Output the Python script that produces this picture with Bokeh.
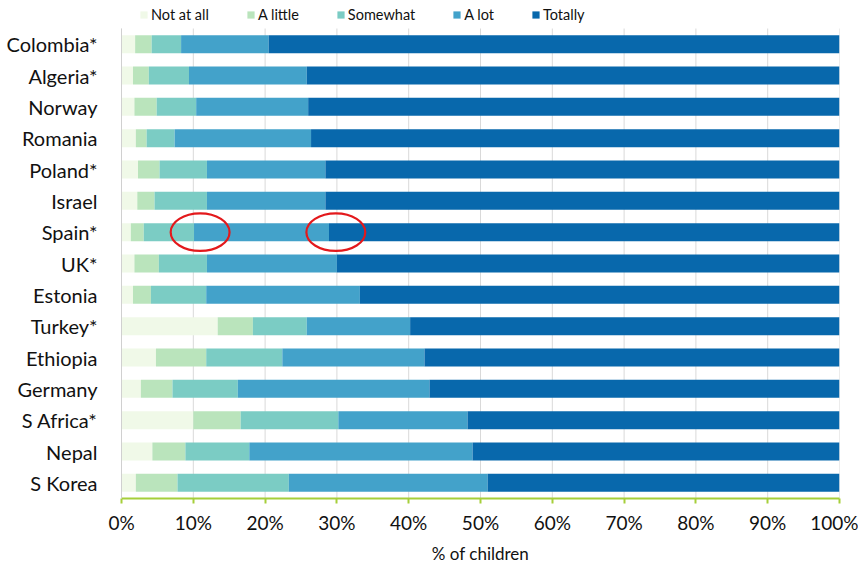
from bokeh.plotting import figure
from bokeh.models import ColumnDataSource, Legend, LegendItem, FixedTicker, PrintfTickFormatter, Range1d
from bokeh.embed import file_html
from bokeh.resources import INLINE

countries = ["Colombia*", "Algeria*", "Norway", "Romania", "Poland*", "Israel", "Spain*", "UK*",
             "Estonia", "Turkey*", "Ethiopia", "Germany", "S Africa*", "Nepal", "S Korea"]
not_at_all = [1.9, 1.6, 1.8, 2.0, 2.3, 2.2, 1.3, 1.8, 1.6, 13.4, 4.8, 2.7, 10.0, 4.3, 2.0]
a_little = [2.3, 2.2, 3.1, 1.5, 3.0, 2.4, 1.8, 3.4, 2.5, 4.9, 7.0, 4.4, 6.6, 4.6, 5.8]
somewhat = [4.1, 5.6, 5.5, 3.9, 6.6, 7.3, 7.0, 6.7, 7.7, 7.5, 10.6, 9.1, 13.6, 8.9, 15.5]
a_lot = [12.2, 16.4, 15.6, 19.0, 16.5, 16.5, 18.8, 18.1, 21.4, 14.4, 19.8, 26.7, 18.0, 31.1, 27.7]
totally = [79.5, 74.2, 74.0, 73.6, 71.6, 71.6, 71.1, 70.0, 66.8, 59.8, 57.8, 57.1, 51.8, 51.1, 49.0]

series_labels = ["Not at all", "A little", "Somewhat", "A lot", "Totally"]
series_keys = ["not_at_all", "a_little", "somewhat", "a_lot", "totally"]
colors = ["#f0f9e8", "#bae4bc", "#7bccc4", "#43a2ca", "#0868ac"]
x_ticks = [0, 10, 20, 30, 40, 50, 60, 70, 80, 90, 100]
highlight_country = "Spain*"

FONT = "Lato"

n = len(countries)
ypos = [n - 1 - k for k in range(n)]  # first country at top
source = ColumnDataSource(dict(country=countries, y=ypos, not_at_all=not_at_all, a_little=a_little,
                               somewhat=somewhat, a_lot=a_lot, totally=totally))

# extra room above the rows holds the legend
p = figure(width=858, height=566, output_backend="svg", toolbar_location=None,
           y_range=Range1d(-0.5, n - 0.5 + 0.894),
           x_range=Range1d(0, 100),
           min_border_left=121, min_border_right=19, min_border_top=0, min_border_bottom=68)

p.xgrid.visible = False
p.ygrid.visible = False
# vertical gridlines limited to the rows
p.segment(x0=x_ticks, y0=[-0.5] * len(x_ticks), x1=x_ticks, y1=[n - 0.5] * len(x_ticks),
          line_color="#d9d9d9", line_width=1)

rs = p.hbar_stack(series_keys, y="y", height=0.575, color=colors, source=source, line_width=0)

# highlight ellipses around Spain boundaries
i = countries.index(highlight_country)
b1 = not_at_all[i] + a_little[i] + somewhat[i]
b2 = b1 + a_lot[i]
p.ellipse(x=[b1 + 0.85, b2 + 0.95], y=[ypos[i], ypos[i]], width=8.2, height=1.2,
          fill_color=None, line_color="#e3191c", line_width=2.2)

legend = Legend(items=[LegendItem(label=l, renderers=[r]) for l, r in zip(series_labels, rs)],
                orientation="horizontal", location=(18, 474), padding=0, margin=0, spacing=37,
                glyph_width=9, glyph_height=9, label_standoff=3, label_height=20,
                label_text_font=FONT, label_text_font_size="14.5px", label_text_color="#111111",
                border_line_color=None, background_fill_alpha=0)
p.add_layout(legend)

p.outline_line_color = None

p.xaxis.ticker = FixedTicker(ticks=x_ticks)
p.xaxis.formatter = PrintfTickFormatter(format="%d%%")
p.xaxis.axis_line_color = "#a6cf3a"
p.xaxis.axis_line_width = 2
p.xaxis.major_tick_line_color = "#a6cf3a"
p.xaxis.major_tick_line_width = 2
p.xaxis.major_tick_out = 5
p.xaxis.major_tick_in = 0
p.xaxis.minor_tick_line_color = None
p.xaxis.major_label_text_font = FONT
p.xaxis.major_label_text_font_size = "19px"
p.xaxis.major_label_text_color = "#111111"
p.xaxis.major_label_standoff = 7
p.xaxis.axis_label = "% of children"
p.xaxis.axis_label_text_font = FONT
p.xaxis.axis_label_text_font_size = "17px"
p.xaxis.axis_label_text_font_style = "normal"
p.xaxis.axis_label_text_color = "#111111"
p.xaxis.axis_label_standoff = 6

p.yaxis.ticker = FixedTicker(ticks=ypos)
p.yaxis.major_label_overrides = {yy: c for yy, c in zip(ypos, countries)}
p.yaxis.bounds = (-0.5, n - 0.5)
p.yaxis.axis_line_color = "#d0d0d0"
p.yaxis.major_tick_line_color = None
p.yaxis.minor_tick_line_color = None
p.yaxis.major_label_text_font = FONT
p.yaxis.major_label_text_font_size = "20px"
p.yaxis.major_label_text_color = "#111111"
p.yaxis.major_label_standoff = 18

open("out.html", "w").write(file_html(p, INLINE))
